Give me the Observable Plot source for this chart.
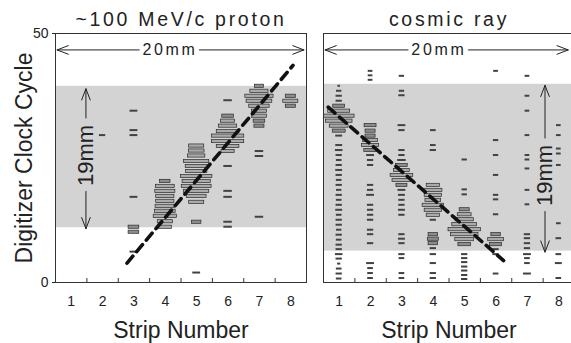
<!DOCTYPE html>
<html><head><meta charset="utf-8">
<script src="https://cdn.jsdelivr.net/npm/d3@7"></script>
<script src="https://cdn.jsdelivr.net/npm/@observablehq/plot@0.6"></script>
<style>
html,body{margin:0;padding:0;background:#fff;overflow:hidden;width:571px;height:343px}
#chart svg{display:block;max-width:none !important}
</style></head><body><div id="chart"></div>
<script>
// ---------- data ----------
const panels = ["~100 MeV/c proton", "cosmic ray"];
const strips = [1, 2, 3, 4, 5, 6, 7, 8];
const stripBounds = [1.5, 2.5, 3.5, 4.5, 5.5, 6.5, 7.5];
const xDomain = [0.5, 8.5];
const yDomain = [0, 50];
const yTicks = [0, 50];
const xLabel = "Strip Number";
const yLabel = "Digitizer Clock Cycle";

// hits per strip (index 0 = strip 1): clock cycle and pulse amplitude (in strip widths)
const protonCycles = [
  [],
  [29.5],
  [34.4, 30.5, 29.5, 17.1, 11.1, 10.1, 6.1],
  [20.3, 19.3, 18.3, 17.3, 16.3, 15.3, 14.3, 13.3, 12.2, 11.1],
  [27.4, 26.4, 25.4, 24.3, 23.3, 22.3, 21.3, 20.3, 19.3, 18.3, 17.3, 16.1, 12.1, 1.9],
  [36.5, 33.4, 32.4, 31.4, 30.3, 29.4, 28.3, 27.3, 26.3, 23.3, 18.3, 17.1, 12.1, 11.1],
  [39.4, 38.4, 37.4, 36.4, 35.4, 34.4, 33.4, 32.4, 31.4, 26.3, 25.3, 13.1],
  [37.4, 36.4, 35.4]
];
const protonAmps = [
  [],
  [0.2],
  [0.25, 0.25, 0.25, 0.25, 0.34, 0.34, 0.25],
  [0.33, 0.6, 0.64, 0.58, 0.58, 0.62, 0.66, 0.74, 0.48, 0.42],
  [0.48, 0.5, 0.55, 0.8, 0.7, 0.68, 1.0, 0.9, 0.95, 0.8, 0.63, 0.48, 0.3, 0.25],
  [0.27, 0.37, 0.45, 0.58, 0.72, 1.03, 1.03, 0.72, 0.42, 0.27, 0.27, 0.27, 0.27, 0.27],
  [0.29, 0.58, 0.9, 0.82, 0.65, 0.48, 0.48, 0.37, 0.32, 0.27, 0.27, 0.27],
  [0.32, 0.48, 0.32]
];
const cosmicCycles = [
  [39.4, 38.4, 37.4, 36.4, 35.4, 34.4, 33.4, 32.4, 31.4, 30.4, 29.4,
   27.5, 26.5, 25.5, 24.5, 23.5, 22.5, 21.5, 20.5, 19.5, 18.5, 17.5, 16.5, 15.5, 14.5, 13.5, 12.5, 11.5, 10.5, 9.5, 8.5, 7.5,
   6.6, 5.6, 4.7, 3.7, 2.7, 1.7, 0.7],
  [42.4, 41.5, 40.6, 31.5, 30.4, 29.4, 28.5, 27.5, 26.5, 25.5, 24.5, 23.5, 19.5, 18.5, 17.5, 15.5, 14.5, 13.5, 12.5, 10.5, 9.6, 7.8, 3.8, 2.8, 1.8, 0.8],
  [41.4, 38.4, 37.5, 31.5, 30.5, 26.5, 25.5, 24.5, 23.5, 22.5, 21.5, 20.5, 19.5, 18.5, 17.5, 16.5, 15.5, 14.5, 13.5, 9.6, 8.7, 7.8, 5.6, 4.8, 1.8, 0.8],
  [30.5, 27.5, 26.5, 19.5, 18.5, 17.5, 16.5, 15.5, 14.5, 13.5, 12.5, 9.6, 8.7, 7.8, 6.8, 5.6, 3.8, 1.8, 0.8],
  [24.6, 18.6, 17.6, 14.6, 13.6, 12.6, 11.6, 10.6, 9.6, 8.6, 7.6, 5.6, 4.8, 4.0, 3.1, 2.3, 1.4, 0.6],
  [42.4, 28.5, 25.5, 21.5, 17.5, 16.6, 13.6, 9.6, 8.6, 7.6, 6.6, 5.6, 1.7],
  [41.4, 37.4, 34.4, 29.5, 25.5, 24.6, 22.8, 18.5, 15.6, 9.6, 8.8, 7.8, 6.8, 5.6, 4.8, 3.8, 1.7],
  [31.5, 29.5, 26.8, 25.8, 23.5, 11.8, 8.8, 5.6, 3.8, 0.8]
];
const cosmicAmps = [
  [0.08, 0.17, 0.2, 0.2, 0.38, 0.7, 0.98, 0.85, 0.6, 0.41, 0.22,
   0.22, 0.24, 0.2, 0.18, 0.2, 0.22, 0.2, 0.18, 0.2, 0.17, 0.2, 0.18, 0.2, 0.22, 0.18, 0.2, 0.2, 0.17, 0.2, 0.18, 0.2,
   0.2, 0.24, 0.2, 0.1, 0.18, 0.2, 0.18],
  [0.15, 0.15, 0.15, 0.38, 0.32, 0.32, 0.47, 0.55, 0.4, 0.25, 0.2, 0.2, 0.2, 0.2, 0.25, 0.2, 0.2, 0.2, 0.2, 0.2, 0.2, 0.2, 0.25, 0.18, 0.18, 0.18],
  [0.17, 0.17, 0.2, 0.25, 0.2, 0.2, 0.2, 0.27, 0.37, 0.5, 0.72, 0.6, 0.35, 0.25, 0.22, 0.2, 0.2, 0.22, 0.2, 0.2, 0.22, 0.2, 0.2, 0.18, 0.18, 0.18],
  [0.18, 0.18, 0.2, 0.42, 0.58, 0.55, 0.5, 0.68, 0.55, 0.42, 0.2, 0.3, 0.35, 0.3, 0.2, 0.2, 0.2, 0.2, 0.2],
  [0.17, 0.17, 0.17, 0.32, 0.44, 0.58, 0.79, 1.03, 0.88, 0.6, 0.4, 0.2, 0.2, 0.2, 0.2, 0.2, 0.2, 0.2],
  [0.15, 0.17, 0.17, 0.17, 0.17, 0.17, 0.17, 0.3, 0.5, 0.38, 0.2, 0.2, 0.18],
  [0.15, 0.15, 0.15, 0.15, 0.15, 0.15, 0.15, 0.15, 0.15, 0.2, 0.2, 0.2, 0.2, 0.25, 0.18, 0.18, 0.25],
  [0.15, 0.15, 0.15, 0.15, 0.15, 0.15, 0.18, 0.18, 0.22, 0.18]
];

// dashed track fits (two end points per panel)
const fitStrip = [[2.78, 8.07], [0.65, 6.24]];
const fitCycle = [[3.9, 43.6], [35.2, 4.4]];

// shaded fiducial band (clock cycles)
const bandLow = [11.0, 6.3];
const bandHigh = [39.4, 39.8];

// scale bars
const hBarLabel = "20mm";
const hBarY = [46.7, 46.7];
const hBarFrom = [0.55, 0.55];
const hBarTo = [8.42, 8.3];
const hBarMid = [4.15, 4.18];
const vBarLabel = "19mm";
const vBarX = [1.47, 7.56];
const vBarFrom = [10.8, 6.1];
const vBarTo = [38.9, 39.6];
const vBarMid = [25.5, 21.5];

// ---------- tables built from the arrays ----------
const hits = [];
[protonCycles, cosmicCycles].forEach((cyc, p) => {
  const amps = p === 0 ? protonAmps : cosmicAmps;
  cyc.forEach((list, s) => list.forEach((c, k) => hits.push({panel: panels[p], strip: s + 1, cycle: c, amp: amps[s][k]})));
});
const fitRows = [];
[0, 1].forEach(p => fitStrip[p].forEach((s, k) => fitRows.push({panel: panels[p], strip: s, cycle: fitCycle[p][k]})));
const bars = panels.map((panel, p) => ({
  panel, bandLow: bandLow[p], bandHigh: bandHigh[p],
  hY: hBarY[p], hFrom: hBarFrom[p], hTo: hBarTo[p], hMid: hBarMid[p],
  vX: vBarX[p], vFrom: vBarFrom[p], vTo: vBarTo[p], vMid: vBarMid[p]
}));

const dashes = hits.filter(d => d.amp < 0.28);
const midBars = hits.filter(d => d.amp >= 0.28 && d.amp < 0.42);
const bigBars = hits.filter(d => d.amp >= 0.42);
const bandColor = "#d3d3d3";
const ink = "#222";
const rectOpts = (h) => ({fx: "panel", x1: d => d.strip - d.amp / 2, x2: d => d.strip + d.amp / 2,
  y1: d => d.cycle - h, y2: d => d.cycle + h});

const arrowStyle = {fx: "panel", stroke: ink, strokeWidth: 1, headLength: 18, headAngle: 42};

const chart = Plot.plot({
  width: 575, height: 343,
  marginLeft: 54, marginRight: 0, marginTop: 33, marginBottom: 61,
  x: {domain: xDomain, axis: null},
  y: {domain: yDomain, axis: null},
  fx: {domain: panels, axis: null, paddingInner: 0.063, paddingOuter: 0},
  style: {fontFamily: "'Liberation Sans', Arial, sans-serif", fontSize: "14px", color: ink, background: "white", overflow: "visible"},
  marks: [
    Plot.rect(bars, {fx: "panel", x1: () => xDomain[0], x2: () => xDomain[1], y1: "bandLow", y2: "bandHigh", fill: bandColor}),
    // scale bars
    Plot.arrow(bars, {x1: "hMid", x2: "hFrom", y1: "hY", y2: "hY", ...arrowStyle}),
    Plot.arrow(bars, {x1: "hMid", x2: "hTo", y1: "hY", y2: "hY", ...arrowStyle}),
    Plot.arrow(bars, {x1: "vX", x2: "vX", y1: "vMid", y2: "vTo", ...arrowStyle}),
    Plot.arrow(bars, {x1: "vX", x2: "vX", y1: "vMid", y2: "vFrom", ...arrowStyle}),
    Plot.text(bars, {fx: "panel", x: "hMid", y: "hY", text: () => hBarLabel, fontSize: 16, lineAnchor: "middle",
      fill: ink, stroke: "white", strokeWidth: 10, paintOrder: "stroke"}),
    Plot.text(bars, {fx: "panel", x: "vX", y: "vMid", text: () => vBarLabel, fontSize: 22, rotate: -90,
      textAnchor: "middle", lineAnchor: "middle", fill: ink, stroke: bandColor, strokeWidth: 16, paintOrder: "stroke"}),
    // hits
    Plot.rect(dashes, {...rectOpts(0.2), fill: "#424242"}),
    Plot.rect(midBars, {...rectOpts(0.32), fill: "#8c8c8c", stroke: "#2a2a2a", strokeWidth: 0.7}),
    Plot.rect(bigBars, {...rectOpts(0.32), fill: "#aaaaaa", stroke: "#2a2a2a", strokeWidth: 0.7}),
    // track fits
    Plot.line(fitRows, {fx: "panel", x: "strip", y: "cycle", z: "panel", stroke: "#111", strokeWidth: 3.6, strokeDasharray: "9,6"}),
    Plot.frame({stroke: "#333", strokeWidth: 1}),
    // axes
    Plot.axisY(yTicks, {tickSize: 3, tickPadding: 4, fontSize: 14, label: null, fill: ink}),
    Plot.axisX(strips, {tickSize: 0, tickPadding: 14, fontSize: 14, label: null, fill: ink}),
    Plot.axisX(stripBounds, {tickSize: -4, tickFormat: () => "", label: null, stroke: "#333"}),
    // titles and labels
    Plot.text(panels, {fx: d => d, text: d => d, frameAnchor: "top", dy: -14, lineAnchor: "middle", fontSize: 19.5, fill: ink}),
    Plot.text(panels, {fx: d => d, text: () => xLabel, frameAnchor: "bottom", dy: 48, lineAnchor: "middle", fontSize: 23, fill: ink}),
    Plot.text([yLabel], {fx: () => panels[0], text: d => d, frameAnchor: "left", dx: -31, rotate: -90,
      textAnchor: "middle", lineAnchor: "middle", fontSize: 23, fill: ink})
  ]
});
chart.querySelectorAll("text").forEach(t => {
  if (panels.includes(t.textContent) || t.textContent === hBarLabel) t.style.letterSpacing = "2.7px";
});
document.getElementById("chart").appendChild(chart);
</script>
</body></html>
